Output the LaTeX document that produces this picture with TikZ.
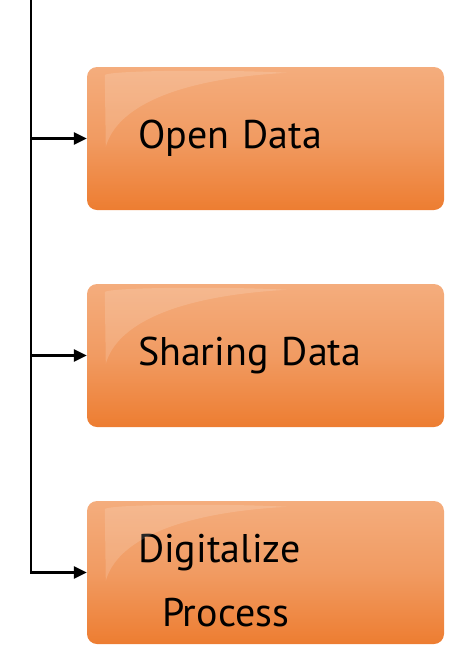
\documentclass[tikz,border=0pt]{standalone}
\usepackage{fontspec}
\setmainfont{PT Sans}
\usepackage{tikz}
\usetikzlibrary{arrows.meta, positioning, calc}

\definecolor{boxlight}{RGB}{244,173,125}
\definecolor{boxmid}{RGB}{241,155,98}
\definecolor{boxdark}{RGB}{237,125,49}

\begin{document}
\begin{tikzpicture}[x=1pt, y=-1pt,
    stagebox/.style={rectangle, rounded corners=10pt, minimum width=357pt, minimum height=143pt,
        top color=boxlight, bottom color=boxdark, middle color=boxmid, draw=none,
        text width=255pt, align=left, inner xsep=51pt, font=\fontsize{40}{48}\selectfont},
    feed/.style={line width=2.5pt, -{Triangle[length=13pt, width=12pt]}}]
    \useasboundingbox (0,0) rectangle (449,649);

    \node [stagebox] (open) at (265.5,138.5) {Open Data};
    \node [stagebox] (sharing) at (265.5,355.5) {Sharing Data};
    \node [stagebox] (digital) at (265.5,572.5) {\rule{0pt}{44pt}Digitalize\\[16pt]\hspace*{24pt}Process};

    % gloss on each box
    \foreach \b in {open, sharing, digital} {
        \fill [white, opacity=0.15] ($(\b.north west)+(18,8)$) .. controls ($(\b.north west)+(30,3)$) and ($(\b.north west)+(150,3)$) .. ($(\b.north west)+(200,6)$)
            .. controls ($(\b.north west)+(90,12)$) and ($(\b.north west)+(30,40)$) .. ($(\b.north west)+(19,80)$) -- cycle;
    }

    \coordinate (top) at (31,0);
    \draw [feed] (top) |- (digital.west);
    \draw [feed] (top |- open.west) -- (open.west);
    \draw [feed] (top |- sharing.west) -- (sharing.west);
\end{tikzpicture}
\end{document}
